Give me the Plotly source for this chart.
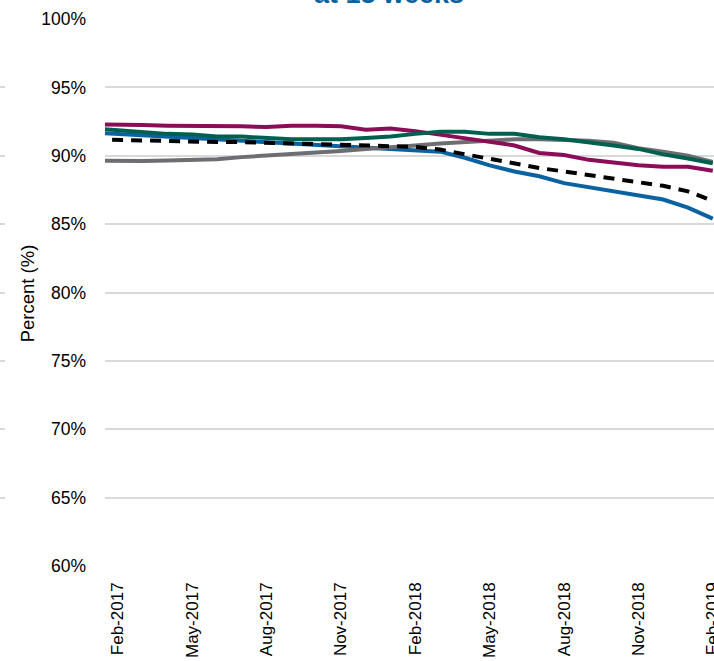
import plotly.graph_objects as go

months = ["Jan-2017", "Feb-2017", "Mar-2017", "Apr-2017", "May-2017", "Jun-2017", "Jul-2017",
          "Aug-2017", "Sep-2017", "Oct-2017", "Nov-2017", "Dec-2017", "Jan-2018", "Feb-2018",
          "Mar-2018", "Apr-2018", "May-2018", "Jun-2018", "Jul-2018", "Aug-2018", "Sep-2018",
          "Oct-2018", "Nov-2018", "Dec-2018", "Jan-2019", "Feb-2019"]

blue = [91.7, 91.6, 91.5, 91.4, 91.3, 91.2, 91.1, 91.0, 90.95, 90.85, 90.75, 90.6, 90.5, 90.45,
        90.3, 89.85, 89.3, 88.85, 88.5, 88.0, 87.7, 87.4, 87.1, 86.8, 86.2, 85.4]
grey = [89.65, 89.6, 89.62, 89.65, 89.7, 89.75, 89.9, 90.0, 90.15, 90.2, 90.35, 90.5, 90.6, 90.75,
        90.9, 91.0, 91.1, 91.2, 91.2, 91.15, 91.1, 90.95, 90.55, 90.3, 90.0, 89.55]
magenta = [92.3, 92.3, 92.25, 92.2, 92.2, 92.2, 92.15, 92.1, 92.2, 92.2, 92.15, 91.9, 92.0, 91.8,
           91.55, 91.3, 91.0, 90.75, 90.2, 90.05, 89.7, 89.5, 89.3, 89.2, 89.2, 88.9]
green = [92.0, 91.85, 91.7, 91.6, 91.55, 91.4, 91.4, 91.3, 91.2, 91.2, 91.2, 91.3, 91.4, 91.6,
         91.75, 91.75, 91.6, 91.6, 91.35, 91.2, 91.0, 90.75, 90.5, 90.1, 89.8, 89.45]
dashed = [91.2, 91.15, 91.1, 91.1, 91.05, 91.0, 91.0, 90.95, 90.95, 90.9, 90.85, 90.8, 90.75, 90.65,
          90.45, 90.1, 89.75, 89.4, 89.1, 88.85, 88.6, 88.3, 88.05, 87.8, 87.4, 86.7]

tick_labels = ["Feb-2017", "May-2017", "Aug-2017", "Nov-2017", "Feb-2018",
               "May-2018", "Aug-2018", "Nov-2018", "Feb-2019"]
y_ticks = [60, 65, 70, 75, 80, 85, 90, 95, 100]
y_tick_text = [f"{v}%" for v in y_ticks]

xidx = list(range(len(months)))
tick_pos = [months.index(t) for t in tick_labels]

FONT = "Liberation Sans, Arial, sans-serif"
W, H = 714, 661
left_px = 105

fig = go.Figure()
series = [
    (blue, "#0b62a0", None),
    (grey, "#6d6e71", None),
    (magenta, "#8b0d57", None),
    (green, "#00604f", None),
    (dashed, "#000000", "11px,8px"),
]
for vals, col, dash in series:
    fig.add_trace(go.Scatter(x=xidx, y=vals, mode="lines",
                             line=dict(color=col, width=4, dash=dash),
                             showlegend=False, hoverinfo="skip"))

# stub of neighbouring panel gridlines at the far left
fig.add_trace(go.Scatter(x=[0], y=[None], xaxis="x2", yaxis="y2", showlegend=False,
                         hoverinfo="skip"))

fig.update_layout(
    width=W, height=H,
    margin=dict(l=0, r=0, t=19.3, b=H - 566),
    paper_bgcolor="white", plot_bgcolor="white",
    font=dict(family=FONT, size=17, color="#000000"),
    xaxis=dict(domain=[left_px / W, 1], range=[0.48, 25.05], automargin=False,
               tickmode="array", tickvals=tick_pos, ticktext=tick_labels,
               tickangle=-90, showgrid=False, zeroline=False, showline=False,
               ticks="", ticklabelstandoff=12, tickfont=dict(size=17),
               ticklabeloverflow="allow"),
    yaxis=dict(range=[60, 100], tickmode="array", tickvals=y_ticks, ticktext=y_tick_text,
               automargin=False,
               showgrid=True, gridcolor="#d9d9d9", gridwidth=1.5,
               zeroline=False, showline=False, ticks="",
               ticklabelstandoff=18, tickfont=dict(size=17.5)),
    xaxis2=dict(domain=[0, 5 / W], anchor="y2", showticklabels=False, automargin=False,
                showgrid=False, zeroline=False, range=[0, 1]),
    yaxis2=dict(matches="y", anchor="x2", showticklabels=False, automargin=False,
                tickmode="array", tickvals=y_ticks,
                showgrid=True, gridcolor="#d9d9d9", gridwidth=1.5, zeroline=False),
    annotations=[
        dict(text="Percent (%)", textangle=-90, x=27 / W, xref="paper", xanchor="center",
             y=(566 - 293.5) / (566 - 19.3), yref="paper", yanchor="middle", showarrow=False,
             font=dict(size=18.5, family=FONT)),
        dict(text="<b>at 18 weeks</b>", x=389 / W, xref="paper", xanchor="center",
             y=1, yref="paper", yanchor="bottom", yshift=8, showarrow=False,
             font=dict(size=27, family=FONT, color="#0b62a0")),
    ],
)

fig.write_html("out.html", config={"displayModeBar": False},
               post_script="document.body.style.margin='0';document.body.style.overflow='hidden';")
